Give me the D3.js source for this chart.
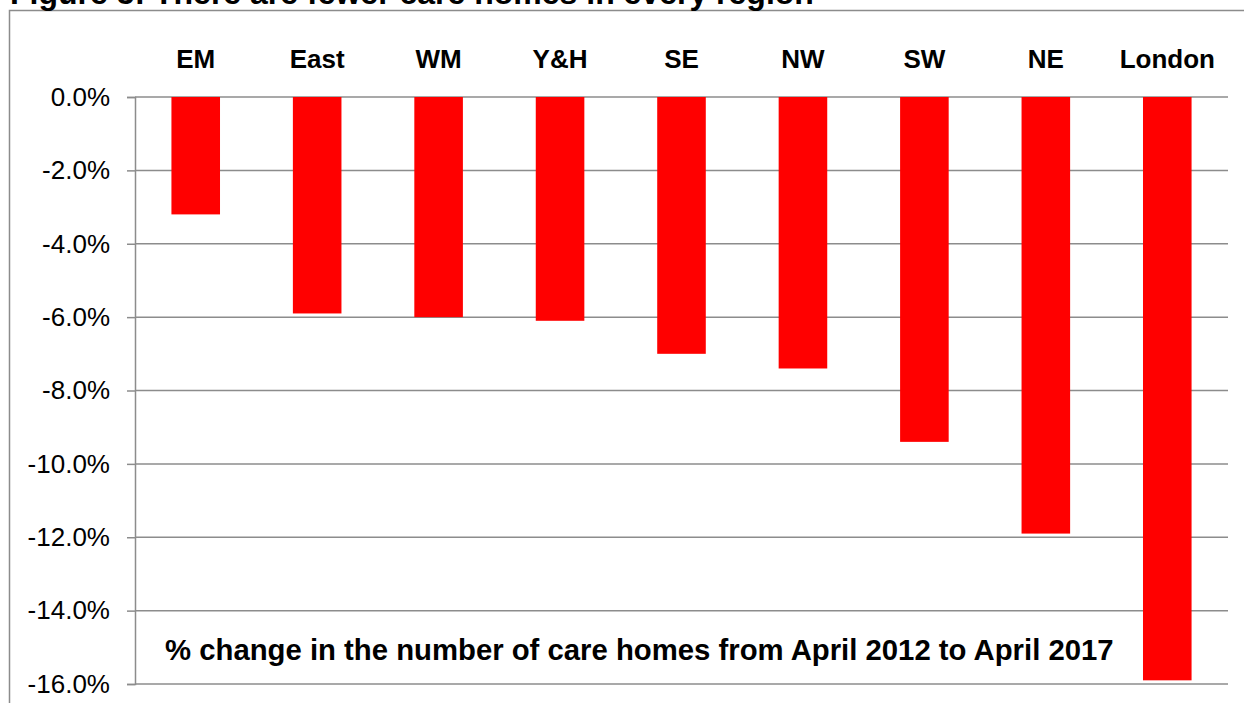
<!DOCTYPE html>
<html>
<head>
<meta charset="utf-8">
<script src="https://cdn.jsdelivr.net/npm/d3@7"></script>
<style>
  html, body { margin: 0; padding: 0; background: #fff; }
  svg { display: block; }
  text { font-family: "Liberation Sans", Arial, Helvetica, sans-serif; }
</style>
</head>
<body>
<svg id="chart" width="1244" height="703"></svg>
<script>
const categories = ["EM", "East", "WM", "Y&H", "SE", "NW", "SW", "NE", "London"];
const values = [-3.2, -5.9, -6.0, -6.1, -7.0, -7.4, -9.4, -11.9, -15.9];
const yTicks = [0, -2, -4, -6, -8, -10, -12, -14, -16];
const titleText = "Figure 5: There are fewer care homes in every region";
const noteText = "% change in the number of care homes from April 2012 to April 2017";

const svg = d3.select("#chart");
const W = 1244, H = 703;
const plotLeft = 135, plotRight = 1228, plotTop = 97, plotBottom = 684;
const grid = "#8c8c8c";

// outer border (top and left visible)
svg.append("path")
  .attr("d", `M9.5,${H + 5} L9.5,10.5 L${W + 5},10.5`)
  .attr("fill", "none").attr("stroke", grid).attr("stroke-width", 1.5);

// title (cut off at top, as in the source)
svg.append("text")
  .attr("x", 10).attr("y", 3.5)
  .attr("font-size", 32).attr("font-weight", "bold").attr("fill", "#000")
  .text(titleText);

const x = d3.scaleBand().domain(categories).range([plotLeft, plotRight])
  .paddingInner(0.6).paddingOuter(0.3);
const y = d3.scaleLinear().domain([0, -16]).range([plotTop, plotBottom]);

// gridlines
svg.append("g").selectAll("line").data(yTicks).join("line")
  .attr("x1", plotLeft).attr("x2", plotRight)
  .attr("y1", d => y(d)).attr("y2", d => y(d))
  .attr("stroke", grid).attr("stroke-width", 1.5);

// y axis
const yAxis = d3.axisLeft(y).tickValues(yTicks).tickSize(8).tickPadding(17)
  .tickFormat(d => d3.format(".1f")(d).replace("\u2212", "-") + "%");
const gy = svg.append("g").attr("transform", `translate(${plotLeft},0)`).call(yAxis);
gy.select(".domain").attr("stroke", grid).attr("stroke-width", 1.5);
gy.selectAll(".tick line").attr("stroke", grid).attr("stroke-width", 1.5);
gy.selectAll(".tick text")
  .attr("font-size", 26).attr("fill", "#000")
  .attr("font-family", "Liberation Sans, Arial, sans-serif");

// bars
svg.append("g").selectAll("rect").data(categories).join("rect")
  .attr("x", d => x(d))
  .attr("width", x.bandwidth())
  .attr("y", y(0))
  .attr("height", (d, i) => y(values[i]) - y(0))
  .attr("fill", "#ff0000");

// category labels on top
const xAxis = d3.axisTop(x).tickSize(0).tickPadding(0);
const gx = svg.append("g").attr("transform", `translate(0,68)`).call(xAxis);
gx.select(".domain").remove();
gx.selectAll(".tick text")
  .attr("dy", 0)
  .attr("font-size", 26).attr("font-weight", "bold").attr("fill", "#000")
  .attr("font-family", "Liberation Sans, Arial, sans-serif");

// annotation
svg.append("text")
  .attr("x", 165).attr("y", 660)
  .attr("font-size", 29.3).attr("font-weight", "bold").attr("fill", "#000")
  .text(noteText);
</script>
</body>
</html>
